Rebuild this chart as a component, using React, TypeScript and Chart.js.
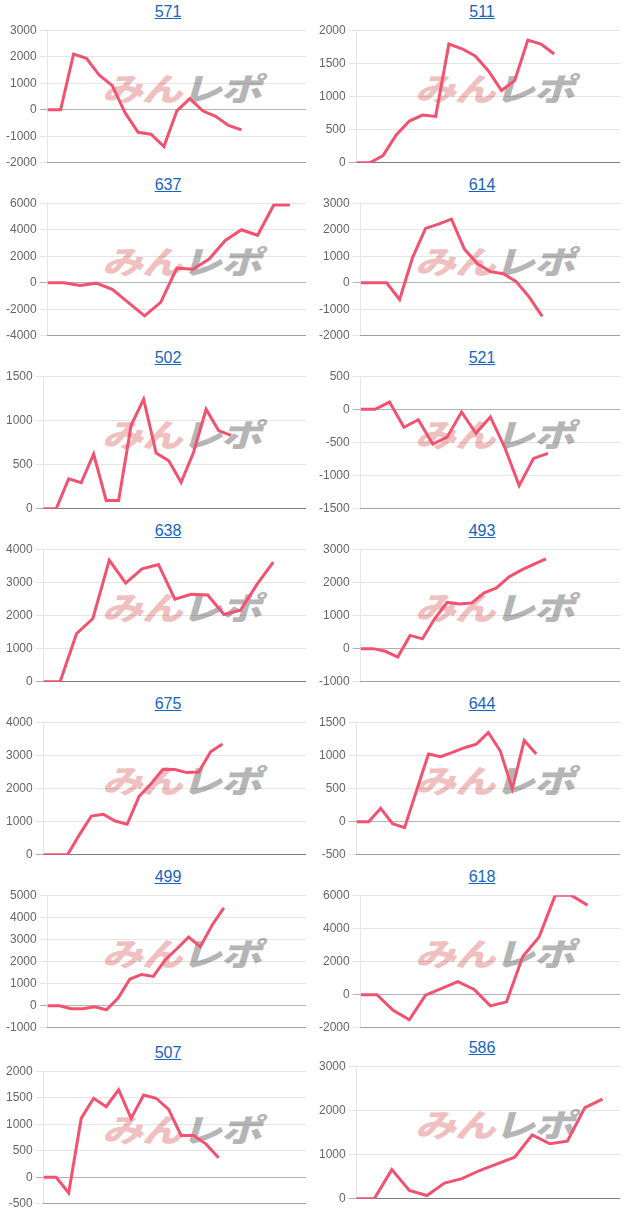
import React, { useEffect, useRef } from 'react';
import { Chart, registerables } from 'chart.js';

Chart.register(...registerables);

// ---- data ----
const titles = ['571', '511', '637', '614', '502', '521', '638', '493', '675', '644', '499', '618', '507', '586'];

const d571 = [0, 0, 2100, 1940, 1300, 910, -120, -850, -920, -1390, -40, 420, -40, -250, -590, -760];
const d511 = [0, 0, 110, 420, 630, 720, 700, 1790, 1720, 1610, 1390, 1090, 1240, 1850, 1790, 1640];
const d637 = [0, 0, -200, -30, -500, -1500, -2500, -1480, 1100, 1020, 1790, 3190, 4000, 3580, 5870, 5870];
const d614 = [0, 0, 0, -630, 950, 2050, 2210, 2400, 1270, 720, 420, 340, 40, -540, -1270];
const d502 = [0, 0, 340, 295, 620, 95, 95, 945, 1240, 630, 545, 300, 640, 1125, 885, 830];
const d521 = [0, 0, 110, -270, -155, -525, -420, -40, -360, -115, -575, -1150, -740, -665];
const d638 = [0, 0, 1450, 1910, 3670, 2980, 3410, 3540, 2490, 2640, 2620, 2030, 2160, 2930, 3610];
const d493 = [0, 0, -80, -255, 400, 295, 910, 1400, 1345, 1380, 1685, 1830, 2165, 2370, 2540, 2705];
const d675 = [0, 0, 0, 610, 1170, 1225, 1020, 920, 1765, 2145, 2580, 2570, 2480, 2500, 3110, 3340];
const d644 = [0, 0, 200, -30, -90, 470, 1020, 980, 1045, 1115, 1170, 1345, 1065, 495, 1225, 1020];
const d499 = [0, 0, -135, -135, -45, -185, 350, 1205, 1415, 1325, 2070, 2575, 3105, 2665, 3640, 4430];
const d618 = [0, 0, -945, -1515, -30, 375, 780, 315, -680, -435, 2305, 3460, 5990, 5990, 5390];
const d507 = [0, 0, -295, 1110, 1490, 1330, 1650, 1110, 1550, 1490, 1280, 790, 790, 625, 370];
const d586 = [0, 0, 660, 190, 75, 355, 455, 640, 790, 940, 1445, 1245, 1305, 2065, 2255];

const seriesList = [d571, d511, d637, d614, d502, d521, d638, d493, d675, d644, d499, d618, d507, d586];
const slotCounts = [21, 21, 17, 21, 22, 19, 17, 22, 23, 23, 23, 17, 22, 16];
const yMins = [-2000, 0, -4000, -2000, 0, -1500, 0, -1000, 0, -500, -1000, -2000, -500, 0];
const yMaxs = [3000, 2000, 6000, 3000, 1500, 500, 4000, 3000, 4000, 1500, 5000, 6000, 2000, 3000];
const ySteps = [1000, 500, 2000, 1000, 500, 500, 1000, 1000, 1000, 500, 1000, 2000, 500, 1000];

// ---- style ----
const FONT = '"Liberation Sans", Arial, Helvetica, sans-serif';
const LINE = 'rgb(242, 82, 112)';
const ROW_H = 173;
const CANVAS_H = 153;
const nudges = [0, 0, 0, 0, 0, 0, 0, 0, 0, 0, 0, 0, 3, -2];

function MiniChart(props: { idx: number }) {
  const { idx } = props;
  const ref = useRef<HTMLCanvasElement>(null);
  const col = idx % 2;
  const row = Math.floor(idx / 2);
  const top = row * ROW_H + nudges[idx];
  const canvasLeft = col === 0 ? 3 : 316;
  const canvasW = col === 0 ? 303 : 304;
  const titleCenter = col === 0 ? 168 : 482;
  const wmLeft = col === 0 ? 106 : 419;

  useEffect(() => {
    const labels = Array.from({ length: slotCounts[idx] }, (_, i) => String(i + 1));
    const chart = new Chart(ref.current as HTMLCanvasElement, {
      type: 'line',
      data: {
        labels,
        datasets: [
          {
            data: seriesList[idx],
            borderColor: LINE,
            backgroundColor: LINE,
            borderWidth: 3,
            pointRadius: 0,
            pointHoverRadius: 0,
            fill: false,
            tension: 0,
          },
        ],
      },
      options: {
        animation: false,
        responsive: false,
        maintainAspectRatio: false,
        events: [],
        plugins: {
          legend: { display: false },
          tooltip: { enabled: false },
          title: { display: false },
        },
        layout: { padding: 0 },
        scales: {
          x: {
            ticks: { display: false },
            grid: { display: false, drawTicks: false, tickLength: 0 },
            border: { display: true, color: 'rgba(0,0,0,0.3)', width: 1 },
          },
          y: {
            min: yMins[idx],
            max: yMaxs[idx],
            ticks: {
              stepSize: ySteps[idx],
              color: '#666',
              font: { size: 12, family: FONT },
              callback: (v: any) => String(v),
            },
            grid: {
              color: (ctx: any) =>
                ctx.tick && ctx.tick.value === 0 ? 'rgba(0,0,0,0.3)' : 'rgba(0,0,0,0.1)',
              lineWidth: 1,
            },
            border: { display: true, color: 'rgba(0,0,0,0.1)', width: 1 },
          },
        },
      },
    });
    return () => chart.destroy();
  }, [idx]);

  return (
    <>
      <div
        style={{
          position: 'absolute',
          left: titleCenter - 50,
          width: 100,
          top: top + 2,
          height: 20,
          lineHeight: '20px',
          textAlign: 'center',
          fontFamily: FONT,
          fontSize: 16,
        }}
      >
        <a href="#" style={{ color: '#1565c0', textDecoration: 'underline' }}>
          {titles[idx]}
        </a>
      </div>
      <div
        style={{
          position: 'absolute',
          left: wmLeft,
          top: top + 70,
          height: 34,
          lineHeight: '34px',
          whiteSpace: 'nowrap',
          fontFamily: '"Noto Sans CJK JP", sans-serif',
          fontWeight: 900,
          fontSize: 32,
          letterSpacing: -1,
          transform: 'skewX(-16deg) scaleX(1.28)',
          transformOrigin: 'left center',
          zIndex: 0,
        }}
      >
        <span style={{ color: '#f0c0c0' }}>みん</span>
        <span style={{ color: '#b5b5b5' }}>レポ</span>
      </div>
      <canvas
        ref={ref}
        width={canvasW}
        height={CANVAS_H}
        style={{
          position: 'absolute',
          left: canvasLeft,
          top: top + 20,
          width: canvasW,
          height: CANVAS_H,
          zIndex: 1,
        }}
      />
    </>
  );
}

export default function App() {
  return (
    <div
      style={{
        position: 'absolute',
        left: 0,
        top: 0,
        width: 626,
        height: 1211,
        background: '#fff',
        overflow: 'hidden',
      }}
    >
      {titles.map((_, i) => (
        <MiniChart key={i} idx={i} />
      ))}
    </div>
  );
}
